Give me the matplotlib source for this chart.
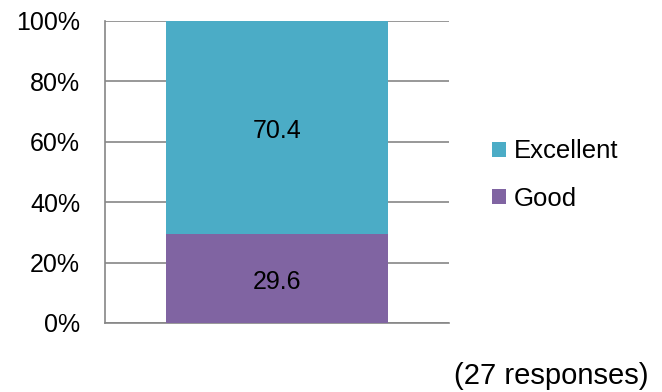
import numpy as np
import matplotlib.pyplot as plt
from matplotlib.patches import Patch

plt.rcParams['font.family'] = ['Liberation Sans', 'DejaVu Sans']

categories = [""]
ratings = ["Good", "Excellent"]
values = {"Good": [29.6], "Excellent": [70.4]}
colors = {"Good": "#8064A2", "Excellent": "#4BACC6"}
yticks = [0, 20, 40, 60, 80, 100]
ytick_labels = ["0%", "20%", "40%", "60%", "80%", "100%"]

fig = plt.figure(figsize=(6.62, 3.92), dpi=100)
ax = fig.add_axes([105/662, 1 - 323/392, 344/662, 302/392])

x = np.arange(len(categories))
bottom = np.zeros(len(categories))
for r in ratings:
    v = np.array(values[r])
    bars = ax.bar(x, v, bottom=bottom, width=0.645, color=colors[r], zorder=3)
    for b, val, b0 in zip(bars, v, bottom):
        ax.annotate(f"{val:.1f}", (b.get_x() + b.get_width() / 2, b0 + val / 2),
                    xytext=(0, -3), textcoords="offset points",
                    ha="center", va="center", fontsize=18, zorder=4)
    bottom += v

ax.set_xlim(-0.5, 0.5)
ax.set_ylim(0, 100)
ax.set_yticks(yticks)
ax.set_yticklabels(ytick_labels, fontsize=18)
ax.set_xticks([])
ax.tick_params(axis="y", length=0, pad=18)
ax.grid(axis="y", color="#868686", linewidth=1.2, zorder=0)
for s in ["top", "right"]:
    ax.spines[s].set_visible(False)
for s in ["left", "bottom"]:
    ax.spines[s].set_color("#868686")
    ax.spines[s].set_linewidth(1.2)

handles = [Patch(facecolor=colors[r]) for r in ["Excellent", "Good"]]
fig.legend(handles, ["Excellent", "Good"], loc="center left",
           bbox_to_anchor=(479/662, 1 - 175/392), frameon=False, fontsize=18.5,
           handlelength=0.55, handleheight=0.55, handletextpad=0.3,
           labelspacing=0.9, borderpad=0)

fig.text(648/662, 1 - 376/392, "(27 responses)", ha="right", va="center", fontsize=21)

fig.savefig("out.png", dpi=100)
